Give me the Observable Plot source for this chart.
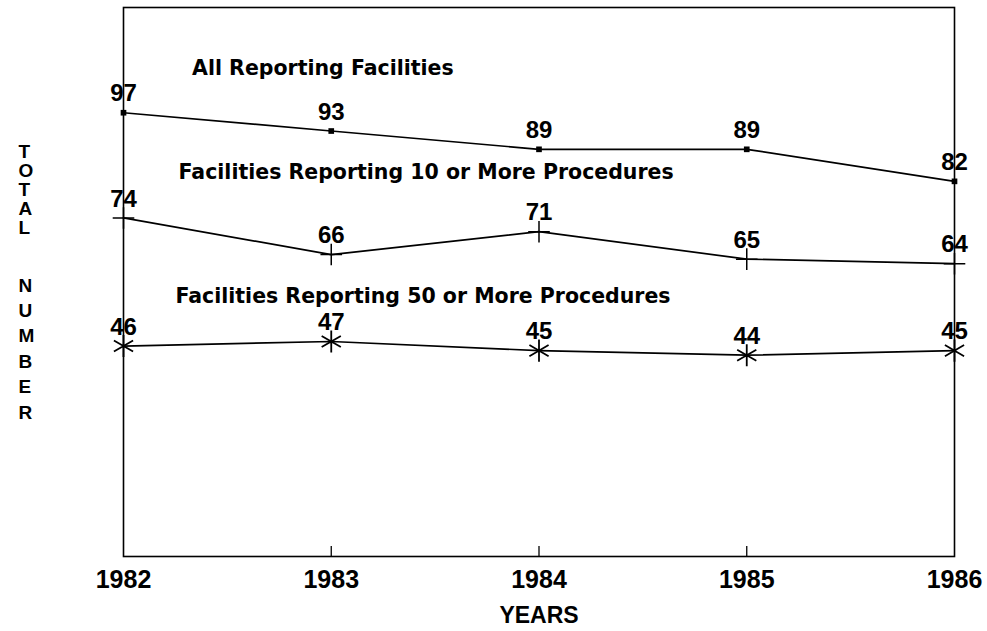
<!DOCTYPE html>
<html><head><meta charset="utf-8">
<script src="https://cdn.jsdelivr.net/npm/d3@7"></script>
<script src="https://cdn.jsdelivr.net/npm/@observablehq/plot@0.6"></script>
<style>body{margin:0;background:#fff;} svg{display:block;}</style>
</head><body><div id="chart"></div>
<script>
const years = [1982, 1983, 1984, 1985, 1986];
const allReporting = [97, 93, 89, 89, 82];
const tenOrMore = [74, 66, 71, 65, 64];
const fiftyOrMore = [46, 47, 45, 44, 45];
const seriesNames = [
  "All Reporting Facilities",
  "Facilities Reporting 10 or More Procedures",
  "Facilities Reporting 50 or More Procedures"
];
const seriesSymbols = ["square", "plus", "asterisk"];
// where each series title sits, in data units (year, value)
const titleYear = [1982.33, 1982.265, 1982.25];
const titleValue = [106.7, 84.0, 56.9];
const innerTicks = [1983, 1984, 1985];
const yTitle = "TOTAL NUMBER";
const xTitle = "YEARS";

const seriesValues = [allReporting, tenOrMore, fiftyOrMore];
const rows = seriesValues.flatMap((vals, s) =>
  vals.map((v, i) => ({series: seriesNames[s], symbol: seriesSymbols[s], year: years[i], value: v})));
const titles = seriesNames.map((name, i) => ({name, year: titleYear[i], value: titleValue[i]}));
const [yWord1, yWord2] = yTitle.split(" ").map(w => w.split("").join("\n"));

const bold = {fontWeight: "bold", fill: "black"};
const chart = Plot.plot({
  width: 987,
  height: 631,
  marginLeft: 123,
  marginRight: 33,
  marginTop: 7,
  marginBottom: 75,
  x: {domain: [1982, 1986], axis: null},
  y: {domain: [0, 120], axis: null},
  style: {background: "white", color: "black"},
  marks: [
    Plot.frame({stroke: "black", strokeWidth: 1.6}),
    Plot.ruleX(innerTicks, {y1: 0, y2: 2.2, stroke: "black", strokeWidth: 1.3}),
    Plot.line(rows, {x: "year", y: "value", z: "series", stroke: "black", strokeWidth: 1.7}),
    Plot.dot(rows.filter(d => d.symbol === "square"), {x: "year", y: "value", symbol: "square", r: 3.2, fill: "black"}),
    Plot.dot(rows.filter(d => d.symbol === "plus"), {x: "year", y: "value", symbol: "plus", r: 7, stroke: "black", strokeWidth: 1.5}),
    Plot.dot(rows.filter(d => d.symbol === "asterisk"), {x: "year", y: "value", symbol: "asterisk", r: 10.5, stroke: "black", strokeWidth: 1.8}),
    Plot.text(rows, {x: "year", y: "value", text: d => String(d.value), dy: -19, fontSize: 24, fontFamily: "Liberation Sans", ...bold}),
    Plot.text(titles, {x: "year", y: "value", text: "name", textAnchor: "start", fontSize: 20.5, fontFamily: "DejaVu Sans", ...bold}),
    Plot.text(years, {x: d => d, frameAnchor: "bottom", dy: 31, text: d => String(d), fontSize: 25, fontFamily: "Liberation Sans", ...bold}),
    Plot.text([xTitle], {frameAnchor: "bottom", dy: 66, fontSize: 23, fontFamily: "Liberation Sans", ...bold}),
    Plot.text([yWord1], {frameAnchor: "left", dx: -105, dy: -92.5, fontSize: 19, lineHeight: 1.0, fontFamily: "Liberation Sans", ...bold}),
    Plot.text([yWord2], {frameAnchor: "left", dx: -105, dy: 65, fontSize: 19, lineHeight: 1.34, fontFamily: "Liberation Sans", ...bold})
  ]
});
document.getElementById("chart").appendChild(chart);
</script>
</body></html>
